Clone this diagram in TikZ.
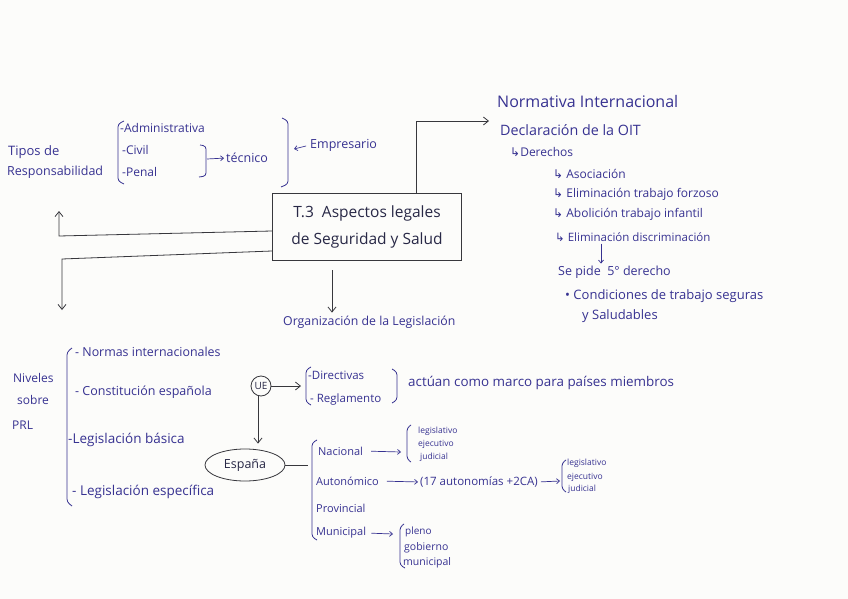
\documentclass[tikz,border=0pt]{standalone}
\usepackage{fontspec}
\setmainfont{Open Sans}
\newfontfamily\symf{DejaVu Sans}
\usetikzlibrary{arrows.meta,shapes.geometric}
\definecolor{ink}{RGB}{55,50,145}
\definecolor{pen}{RGB}{55,55,60}
\definecolor{boxink}{RGB}{40,40,70}
\definecolor{paper}{RGB}{252,252,250}
\newcommand{\hk}{{\symf ↳}}
\newcommand{\fs}[1]{\fontsize{#1}{#1}\selectfont}
\begin{document}
\begin{tikzpicture}[x=1pt,y=-1pt,
 txt/.style={anchor=west,inner sep=0pt,text=ink},
 conn/.style={draw=pen,line width=0.8pt,-{Straight Barb[length=5pt,width=8pt]}},
 iconn/.style={draw=ink,line width=0.7pt,-{Straight Barb[length=3pt,width=5pt]}},
 brk/.style={draw=ink,line width=0.8pt,rounded corners=3pt},
]
\fill[paper] (0,0) rectangle (848,599);
\useasboundingbox (0,0) rectangle (848,599);

% ---------- top left ----------
\node[txt,font=\fs{13}] (tipos) at (8,152) {Tipos de};
\node[txt,font=\fs{12.5}] (resp) at (7,172) {Responsabilidad};
\draw[brk] (124,121) -- (118,124) -- (118,181) -- (124,184);
\node[txt,font=\fs{12}] (adm) at (120,128) {-Administrativa};
\node[txt,font=\fs{12}] (civ) at (122,150) {-Civil};
\node[txt,font=\fs{12}] (pena) at (122,172) {-Penal};
\draw[brk] (200,145) -- (206,146) -- (206,176) -- (199,177);
\coordinate (tb) at (207,159);
\node[txt,font=\fs{12.5}] (tec) at (226,158) {técnico};
\draw[iconn,shorten >=2pt] (tb) -- (tec.west);
\draw[brk] (282,118) -- (288,121) -- (288,184) -- (281,187);
\coordinate (eb) at (294,149);
\node[txt,font=\fs{12.5}] (emp) at (310,145) {Empresario};
\draw[iconn,shorten <=4pt] (emp.west) -- (eb);

% ---------- central box ----------
\node[draw=pen,line width=0.9pt,minimum width=189pt,minimum height=67pt,inner sep=0pt,
      align=center,text=boxink,font=\fontsize{15.5}{27}\selectfont] (main) at (367,226.5)
      {T.3\ \ Aspectos legales\\de Seguridad y Salud};
\coordinate (la) at (59,211);
\coordinate (lab) at (59,236);
\coordinate (lb) at (62,310);
\coordinate (lbb) at (62,259);
\draw[conn] ([yshift=-4.5pt]main.west) -- (lab) -- (la);
\draw[conn] ([yshift=-24.5pt]main.west) -- (lbb) -- (lb);
\coordinate (tr) at (489,121);
\draw[conn] ([xshift=49pt]main.north) |- (tr);
\node[txt,font=\fs{12.3}] (org) at (283,322) {Organización de la Legislación};
\draw[conn,shorten >=3pt] ([xshift=-35pt,yshift=-10pt]main.south) -- ([xshift=-35pt]main.south |- org.north);

% ---------- right side ----------
\node[txt,font=\fs{16}] (norm) at (497,102) {Normativa Internacional};
\node[txt,font=\fs{14.3}] (decl) at (500,130) {Declaración de la OIT};
\node[txt,font=\fs{12}] (der) at (510,152) {\hk Derechos};
\node[txt,font=\fs{12}] (aso) at (553,174) {\hk\ Asociación};
\node[txt,font=\fs{12}] (eli) at (553,194) {\hk\ Eliminación trabajo forzoso};
\node[txt,font=\fs{12}] (abo) at (553,214) {\hk\ Abolición trabajo infantil};
\node[txt,font=\fs{11.5}] (dis) at (555,237) {\hk\ Eliminación discriminación};
\node[txt,font=\fs{12.5}] (pide) at (558,272) {Se pide\ \ 5° derecho};
\draw[iconn,shorten <=2pt,shorten >=2pt] (dis.south -| 601,0) -- (pide.north -| 601,0);
\node[txt,font=\fs{13}] (cond) at (565,296) {• Condiciones de trabajo seguras};
\node[txt,font=\fs{13}] (salu) at (582,316) {y Saludables};

% ---------- bottom left ----------
\node[txt,font=\fs{12}] (niv) at (13,378) {Niveles};
\node[txt,font=\fs{12}] (sob) at (17,400) {sobre};
\node[txt,font=\fs{12}] (prl) at (12,425) {PRL};
\draw[brk] (72,348) -- (67,352) -- (67,502) -- (72,506);
\node[txt,font=\fs{12.4}] (nor) at (75,352) {- Normas internacionales};
\node[txt,font=\fs{12.5}] (con) at (75,392) {- Constitución española};
\node[txt,font=\fs{13.5}] (bas) at (68,440) {-Legislación básica};
\node[txt,font=\fs{13.5}] (esp) at (72,492) {- Legislación específica};

% ---------- UE ----------
\node[draw=pen,line width=0.8pt,circle,minimum size=20pt,inner sep=0pt,text=boxink,font=\fs{10}] (ue) at (261,386) {UE};
\coordinate (ueb) at (301,386);
\draw[conn] (ue.east) -- (ueb);
\draw[brk] (311,367) -- (306,370) -- (306,402) -- (311,405);
\node[txt,font=\fs{11.5}] (dir) at (308,375) {-Directivas};
\node[txt,font=\fs{11.5}] (reg) at (310,400) {- Reglamento};
\draw[brk] (392,369) -- (397,372) -- (397,400) -- (392,403);
\node[txt,font=\fs{13.4}] (act) at (408,383) {actúan como marco para países miembros};

% ---------- España ----------
\node[draw=pen,line width=0.8pt,ellipse,minimum width=80pt,minimum height=32pt,inner sep=0pt,text=boxink,font=\fs{12.5}] (espana) at (245,465) {España};
\draw[conn,shorten >=5pt] ([xshift=-3pt]ue.south) -- ([xshift=-3pt]ue.south |- espana.north);
\coordinate (sb) at (308,465);
\draw[draw=pen,line width=0.8pt] (espana.east) -- (sb);
\draw[brk] (317,440) -- (312,443) -- (312,537) -- (317,540);
\node[txt,font=\fs{11}] (nac) at (318,451) {Nacional};
\node[txt,font=\fs{11}] (aut) at (316,481) {Autonómico};
\node[txt,font=\fs{11}] (prov) at (316,508) {Provincial};
\node[txt,font=\fs{11}] (mun) at (316,533) {Municipal};

\coordinate (nb) at (401,452);
\draw[iconn,shorten <=8pt] (nac.east) -- (nb);
\draw[brk] (411,425) -- (407,428) -- (407,459) -- (411,462);
\node[txt,font=\fs{8.5}] (nl) at (418,431) {legislativo};
\node[txt,font=\fs{8.5}] (ne) at (418,444) {ejecutivo};
\node[txt,font=\fs{8.5}] (nj) at (420,457) {judicial};

\node[txt,font=\fs{11.5}] (ca) at (420,482) {(17 autonomías +2CA)};
\draw[iconn,shorten <=8pt,shorten >=2pt] (aut.east) -- (ca.west);
\coordinate (cb) at (560,481);
\draw[iconn,shorten <=3pt] (ca.east) -- (cb);
\draw[brk] (566,460) -- (562,463) -- (562,489) -- (566,492);
\node[txt,font=\fs{8.5}] (al) at (567,463) {legislativo};
\node[txt,font=\fs{8.5}] (ae) at (567,477) {ejecutivo};
\node[txt,font=\fs{8.5}] (aj) at (568,489) {judicial};

\coordinate (mb) at (393,534);
\draw[iconn,shorten <=5pt] (mun.east) -- (mb);
\draw[brk] (404,524) -- (400,527) -- (400,565) -- (405,568);
\node[txt,font=\fs{10}] (mp) at (405,532) {pleno};
\node[txt,font=\fs{10.5}] (mg) at (404,548) {gobierno};
\node[txt,font=\fs{10.5}] (mm) at (403,563) {municipal};
\end{tikzpicture}
\end{document}
